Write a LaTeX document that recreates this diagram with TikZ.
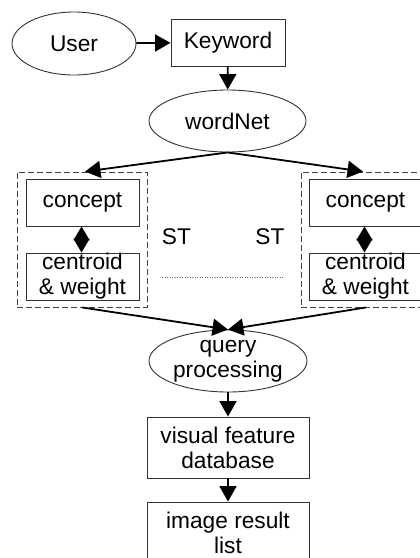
\documentclass[tikz,border=0pt]{standalone}
\usepackage{fontspec}
\setmainfont{Liberation Sans}
\usetikzlibrary{shapes.geometric,arrows.meta}
\begin{document}
\begin{tikzpicture}[x=1pt,y=-1pt,
  every node/.style={font=\fontsize{22.7}{25}\selectfont, inner sep=0pt, align=center},
  ell/.style={ellipse, draw=black!80, line width=0.9pt},
  box/.style={rectangle, draw=black!80, line width=0.9pt},
  grp/.style={rectangle, draw=black!75, line width=0.9pt, dash pattern=on 6pt off 3pt},
  arr/.style={line width=1.8pt, -{Triangle[length=15.5pt,width=17pt]}},
  darr/.style={line width=1.8pt, {Triangle[length=14pt,width=16pt]}-{Triangle[length=14pt,width=16pt]}},
  lbl/.style={}
]
\useasboundingbox (0,0) rectangle (420,558);
\clip (0,0) rectangle (420,558);
% nodes
\node[ell, minimum width=124pt, minimum height=63pt] (user) at (74,43.5) {User};
\node[box, minimum width=114pt, minimum height=47pt] (key) at (228,42.5) {Keyword};
\node[ell, minimum width=157pt, minimum height=62pt] (wn) at (227.5,121) {wordNet};
% left group
\node[grp, minimum width=130pt, minimum height=135pt] (dl) at (82,239.5) {};
\node[box, minimum width=113pt, minimum height=47pt] (cl) at (82.5,202.5) {concept};
\node[box, minimum width=113pt, minimum height=47pt] (wl) at (82.5,276.5) {centroid\\\& weight};
% right group
\node[grp, minimum width=130pt, minimum height=135pt] (dr) at (366,239.5) {};
\node[box, minimum width=113pt, minimum height=47pt] (cr) at (365.5,202.5) {concept};
\node[box, minimum width=113pt, minimum height=47pt] (wr) at (365.5,276.5) {centroid\\\& weight};
% ST labels and dotted line
\node[lbl] (st1) at (176.5,237) {ST};
\node[lbl] (st2) at (270,237) {ST};
\coordinate (d1) at (162,277);
\coordinate (d2) at (283,277);
\draw[black!60, line width=0.8pt, dash pattern=on 1pt off 1.5pt] (d1) -- (d2);
% lower chain
\node[ell, minimum width=158pt, minimum height=62pt] (qp) at (228,361) {query\\processing};
\node[box, minimum width=162pt, minimum height=61pt] (vf) at (228,447.5) {visual feature\\database};
\node[box, minimum width=162pt, minimum height=61pt] (ir) at (228,532.5) {image result\\list};
% connectors
\draw[arr] (user) -- (key);
\draw[arr] (key) -- (wn);
\draw[arr] (wn.south) -- ([xshift=3pt]dl.north);
\draw[arr] (wn.south) -- ([xshift=-3pt]dr.north);
\draw[darr] ([xshift=-1pt]cl.south) -- ([xshift=-1pt]wl.north);
\draw[darr] ([xshift=-1pt]cr.south) -- ([xshift=-1pt]wr.north);
\draw[arr] (dl.south) -- (qp.north);
\draw[arr] (dr.south) -- (qp.north);
\draw[arr] (qp) -- (vf);
\draw[arr] (vf) -- (ir);
\end{tikzpicture}
\end{document}
